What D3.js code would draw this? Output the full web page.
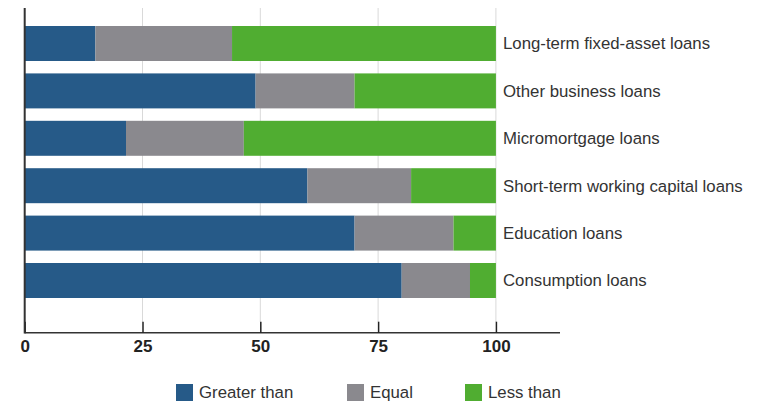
<!DOCTYPE html>
<html><head><meta charset="utf-8">
<script src="https://cdn.jsdelivr.net/npm/d3@7"></script>
<style>body{margin:0;background:#fff;}svg{display:block;font-family:"Liberation Sans",Arial,Helvetica,sans-serif;}</style>
</head><body>
<script>
const categories = ["Long-term fixed-asset loans","Other business loans","Micromortgage loans","Short-term working capital loans","Education loans","Consumption loans"];
const greaterThan = [15, 49, 21.5, 60, 70, 80];
const equal = [29, 21, 25, 22, 21, 14.5];
const lessThan = [56, 30, 53.5, 18, 9, 5.5];
const seriesNames = ["Greater than","Equal","Less than"];
const colors = ["#265a88","#8a898e","#50ad31"];
const tickValues = [0,25,50,75,100];

const W=760,H=404;
const svg=d3.select("body").append("svg").attr("width",W).attr("height",H);
const x=d3.scaleLinear().domain([0,113.6]).range([24.7,560]);
const y=d3.scaleBand().domain(categories).range([19.8,304.2]).paddingInner(0.262).paddingOuter(0.131);

// gridlines
svg.append("g").selectAll("line").data(tickValues.slice(1)).join("line")
  .attr("x1",d=>x(d)).attr("x2",d=>x(d)).attr("y1",8).attr("y2",322)
  .attr("stroke","#d9d9d9").attr("stroke-width",1);

const stackData=categories.map((c,i)=>({c,"Greater than":greaterThan[i],"Equal":equal[i],"Less than":lessThan[i]}));
const stacked=d3.stack().keys(seriesNames)(stackData);
svg.append("g").selectAll("g").data(stacked).join("g").attr("fill",(d,i)=>colors[i])
  .selectAll("rect").data(d=>d).join("rect")
  .attr("x",d=>x(d[0])).attr("width",d=>x(d[1])-x(d[0]))
  .attr("y",d=>y(d.data.c)).attr("height",y.bandwidth());

// x axis
const xa=svg.append("g").attr("transform","translate(0,332.7)")
  .call(d3.axisBottom(x).tickValues(tickValues).tickSize(-11).tickPadding(7));
xa.select(".domain").attr("stroke","#333").attr("stroke-width",1.5).attr("d",`M${x(0)},0H560`);
xa.selectAll(".tick line").attr("stroke","#222").attr("stroke-width",1.5);
xa.selectAll(".tick text").attr("fill","#222").attr("font-size",17).attr("font-weight","bold").attr("dy","0.71em");

// left axis line
svg.append("line").attr("x1",x(0)).attr("x2",x(0)).attr("y1",8).attr("y2",333.5)
  .attr("stroke","#333").attr("stroke-width",2);

// category labels
svg.append("g").selectAll("text").data(categories).join("text")
  .attr("x",503).attr("y",d=>y(d)+y.bandwidth()/2).attr("dy","0.35em")
  .attr("fill","#333").attr("font-size",16.8).text(d=>d);

// legend
const legX=[176,347,465];
const lg=svg.append("g").selectAll("g").data(seriesNames).join("g")
  .attr("transform",(d,i)=>`translate(${legX[i]},384)`);
lg.append("rect").attr("width",17).attr("height",17).attr("fill",(d,i)=>colors[i]);
lg.append("text").attr("x",23).attr("y",8.5).attr("dy","0.35em").attr("font-size",16.8).attr("fill","#333").text(d=>d);
</script>
</body></html>
